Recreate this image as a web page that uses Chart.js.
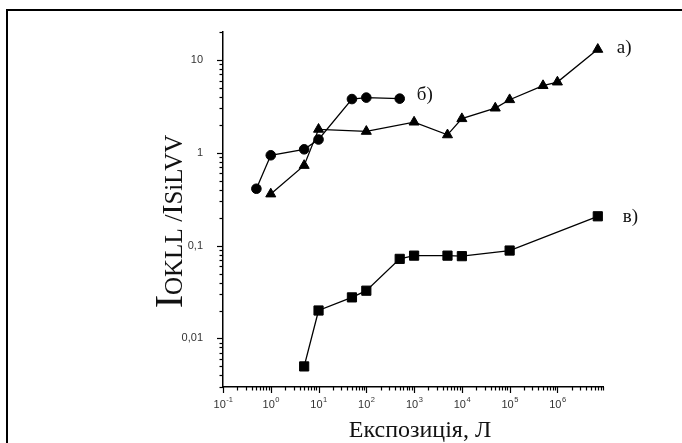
<!DOCTYPE html>
<html><head><meta charset="utf-8">
<script src="https://cdn.jsdelivr.net/npm/chart.js@4.4.1/dist/chart.umd.min.js"></script>
<style>
html,body{margin:0;padding:0;background:#fff;}
#wrap{position:relative;width:682px;height:443px;overflow:hidden;}
#frame{position:absolute;left:6px;top:9px;width:680px;height:440px;border-left:2px solid #000;border-top:2px solid #000;box-sizing:border-box;}
canvas{position:absolute;left:0;top:0;}
</style></head><body>
<div id="wrap"><canvas id="c" width="682" height="443"></canvas><div id="frame"></div></div>
<script>
// ---- data ----
const seriesNames = ['а)', 'б)', 'в)'];
const exposureA = [1, 5, 10, 100, 1000, 5000, 1e4, 5e4, 1e5, 5e5, 1e6, 7e6];
const ratioA    = [0.36, 0.73, 1.79, 1.70, 2.14, 1.56, 2.33, 3.03, 3.73, 5.29, 5.78, 13.0];
const exposureB = [0.5, 1, 5, 10, 50, 100, 500];
const ratioB    = [0.41, 0.94, 1.09, 1.39, 3.79, 3.93, 3.83];
const exposureC = [5, 10, 50, 100, 500, 1000, 5000, 1e4, 1e5, 7e6];
const ratioC    = [0.005, 0.020, 0.0277, 0.0327, 0.072, 0.078, 0.078, 0.077, 0.0885, 0.207];
const xTickExponents = [-1, 0, 1, 2, 3, 4, 5, 6];
const yTickValues = [0.01, 0.1, 1, 10];
const yTickLabels = ['0,01', '0,1', '1', '10'];
const xTitle = 'Експозиція, Л';
const yTitleRuns = [
  {t: 'I', sub: false},
  {t: 'OKLL', sub: true},
  {t: ' /', sub: false},
  {t: 'I', sub: false},
  {t: 'SiLVV', sub: true}
];

// ---- styles ----
const pointStyles = ['triangle', 'circle', 'rect'];
const pointRadii = [5.8, 4.8, 6.5];
const labelOffsets = [[19, -1], [17, -4], [25, 1]];

const pairs = (xs, ys) => xs.map((x, i) => ({x: x, y: ys[i]}));

const decor = {
  id: 'decor',
  afterDraw(chart) {
    const ctx = chart.ctx, xs = chart.scales.x, ys = chart.scales.y;
    ctx.save();
    ctx.strokeStyle = '#000';
    ctx.lineWidth = 1.2;
    for (let e = -2; e <= 7; e++) {
      for (let m = 1; m <= 9; m++) {
        const v = m * Math.pow(10, e);
        if (v < xs.min * 0.999 || v > xs.max * 1.001) continue;
        const p = Math.round(xs.getPixelForValue(v)) + 0.5;
        const len = m === 1 ? 6 : 3.5;
        ctx.beginPath(); ctx.moveTo(p, xs.top); ctx.lineTo(p, xs.top + len); ctx.stroke();
      }
    }
    for (let e = -4; e <= 2; e++) {
      for (let m = 1; m <= 9; m++) {
        const v = m * Math.pow(10, e);
        if (v < ys.min * 0.999 || v > ys.max * 1.001) continue;
        const p = Math.round(ys.getPixelForValue(v)) + 0.5;
        const len = m === 1 ? 6 : 3.5;
        ctx.beginPath(); ctx.moveTo(ys.right, p); ctx.lineTo(ys.right - len, p); ctx.stroke();
      }
    }
    // x tick labels with superscripts
    ctx.fillStyle = '#333';
    ctx.textBaseline = 'alphabetic';
    const f1 = '11px "Liberation Sans", Arial, sans-serif';
    const f2 = '7.5px "Liberation Sans", Arial, sans-serif';
    xTickExponents.forEach(e => {
      const p = xs.getPixelForValue(Math.pow(10, e));
      ctx.font = f1;
      const w1 = ctx.measureText('10').width;
      ctx.font = f2;
      const w2 = ctx.measureText(String(e)).width;
      const x0 = p - (w1 + w2) / 2;
      ctx.textAlign = 'left';
      ctx.font = f1;
      ctx.fillText('10', x0, 408);
      ctx.font = f2;
      ctx.fillText(String(e), x0 + w1 + 0.5, 402);
    });
    // x title
    ctx.fillStyle = '#111';
    ctx.font = '24px "Liberation Serif", "Times New Roman", serif';
    ctx.textAlign = 'center';
    ctx.fillText(xTitle, 420, 437);
    // y title (rotated)
    const runs = yTitleRuns.map((r, i) => {
      const size = r.sub ? 25 : (i === 0 ? 40 : (r.t === 'I' ? 30 : 26));
      return {t: r.t, size: size};
    });
    let total = 0;
    runs.forEach(r => { ctx.font = r.size + 'px "Liberation Serif", "Times New Roman", serif'; r.w = ctx.measureText(r.t).width; total += r.w; });
    ctx.translate(182, 221.5 + total / 2);
    ctx.rotate(-Math.PI / 2);
    ctx.textAlign = 'left';
    let lx = 0;
    runs.forEach(r => { ctx.font = r.size + 'px "Liberation Serif", "Times New Roman", serif'; ctx.fillText(r.t, lx, 0); lx += r.w; });
    ctx.setTransform(1, 0, 0, 1, 0, 0);
    // series labels
    ctx.fillStyle = '#111';
    ctx.font = '19px "Liberation Serif", "Times New Roman", serif';
    ctx.textAlign = 'left';
    ctx.textBaseline = 'middle';
    chart.data.datasets.forEach((ds, i) => {
      const meta = chart.getDatasetMeta(i);
      const last = meta.data[meta.data.length - 1];
      ctx.fillText(seriesNames[i], last.x + labelOffsets[i][0], last.y + labelOffsets[i][1]);
    });
    ctx.restore();
  }
};

const mk = (i, xs, ys) => ({
  label: seriesNames[i],
  data: pairs(xs, ys),
  borderColor: '#000',
  borderWidth: 1.3,
  backgroundColor: '#000',
  pointBackgroundColor: '#000',
  pointBorderColor: '#000',
  pointBorderWidth: 1,
  pointStyle: pointStyles[i],
  pointRadius: pointRadii[i],
  tension: 0,
  clip: false
});

new Chart(document.getElementById('c'), {
  type: 'line',
  data: {datasets: [mk(0, exposureA, ratioA), mk(1, exposureB, ratioB), mk(2, exposureC, ratioC)]},
  options: {
    responsive: false,
    animation: false,
    devicePixelRatio: 1,
    layout: {padding: {left: 0, top: 32, right: 79, bottom: 0}},
    plugins: {legend: {display: false}, tooltip: {enabled: false}},
    scales: {
      x: {
        type: 'logarithmic', min: 0.1, max: 9e6,
        grid: {display: false},
        border: {display: true, color: '#000', width: 1.5},
        ticks: {display: false},
        afterFit(s) { s.height = 56; }
      },
      y: {
        type: 'logarithmic', min: 0.003, max: 20,
        grid: {display: false},
        border: {display: true, color: '#000', width: 1.5},
        ticks: {
          autoSkip: false, padding: 12, color: '#333',
          font: {family: '"Liberation Sans", Arial, sans-serif', size: 11},
          callback: (v, idx) => yTickLabels[idx]
        },
        afterBuildTicks(s) { s.ticks = yTickValues.map(v => ({value: v})); },
        afterFit(s) { s.width = 223; }
      }
    }
  },
  plugins: [decor]
});
</script>
</body></html>
